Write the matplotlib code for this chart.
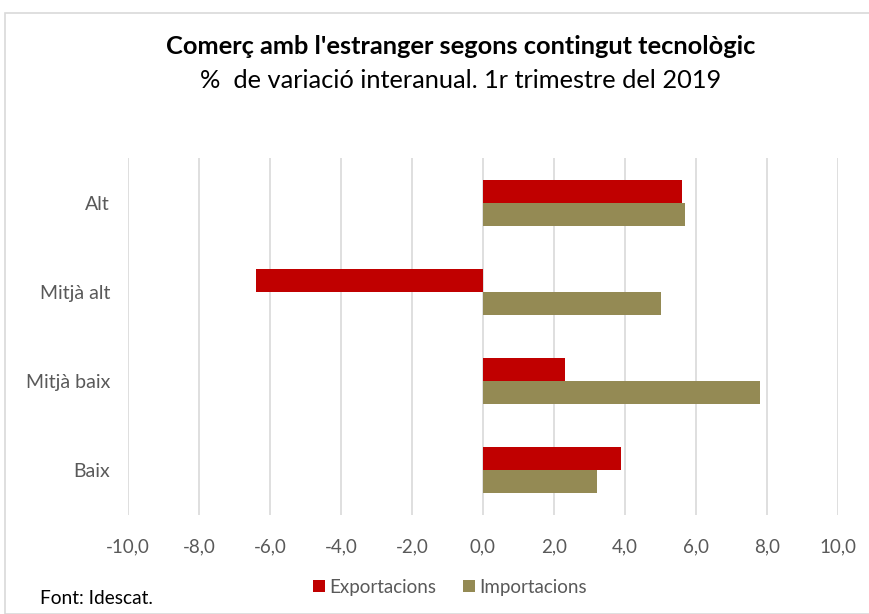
import matplotlib
matplotlib.use("Agg")
import matplotlib.pyplot as plt
import numpy as np
from matplotlib.patches import Rectangle

categories = ["Alt", "Mitjà alt", "Mitjà baix", "Baix"]
exportacions = [5.6, -6.4, 2.3, 3.9]
importacions = [5.7, 5.0, 7.8, 3.2]
xticks = [-10, -8, -6, -4, -2, 0, 2, 4, 6, 8, 10]

plt.rcParams['font.family'] = ['Lato', 'DejaVu Sans']

fig = plt.figure(figsize=(8.69, 6.14), dpi=100)
W, H = 869, 614
ax = fig.add_axes([128 / W, (614 - 515) / H, (838 - 128) / W, (515 - 158) / H])

# outer frame
fig.patches.append(Rectangle((5 / W, 0), 1.2, (614 - 13) / H, transform=fig.transFigure,
                             fill=False, edgecolor="#D9D9D9", linewidth=1.2))

red = "#C00000"
olive = "#948A54"
y = np.arange(len(categories))
h = 0.258
ax.barh(y - h / 2, exportacions, height=h, color=red, label="Exportacions", zorder=3)
ax.barh(y + h / 2, importacions, height=h, color=olive, label="Importacions", zorder=3)

ax.set_xlim(-10, 10)
ax.set_ylim(len(categories) - 0.5, -0.5)
ax.set_yticks(y)
ax.set_yticklabels(categories)
ax.set_xticks(xticks)
ax.set_xticklabels([f"{v:.1f}".replace(".", ",") for v in xticks])
ax.grid(axis="x", color="#D9D9D9", linewidth=1.2, zorder=0)
for s in ax.spines.values():
    s.set_visible(False)
ax.tick_params(axis="both", length=0, labelsize=13.5, colors="#595959")
ax.tick_params(axis="x", pad=17)
ax.tick_params(axis="y", labelsize=14, pad=13)

cx = 461 / W
fig.text(cx, (614 - 47) / H, "Comerç amb l'estranger segons contingut tecnològic",
         ha="center", va="center", fontsize=18.3, fontweight="bold", color="black")
fig.text(cx, (614 - 80) / H, "%  de variació interanual. 1r trimestre del 2019",
         ha="center", va="center", fontsize=18.3, color="black")

fig.legend(loc="center", bbox_to_anchor=(450 / W, (614 - 587) / H), ncol=2, frameon=False,
           fontsize=13.5, handlelength=0.65, handleheight=0.65, handletextpad=0.25, columnspacing=1.4,
           labelcolor="#595959")
fig.text(40 / W, (614 - 598) / H, "Font: Idescat.", ha="left", va="center", fontsize=13.8, color="black")

fig.savefig("out.png", dpi=100)
